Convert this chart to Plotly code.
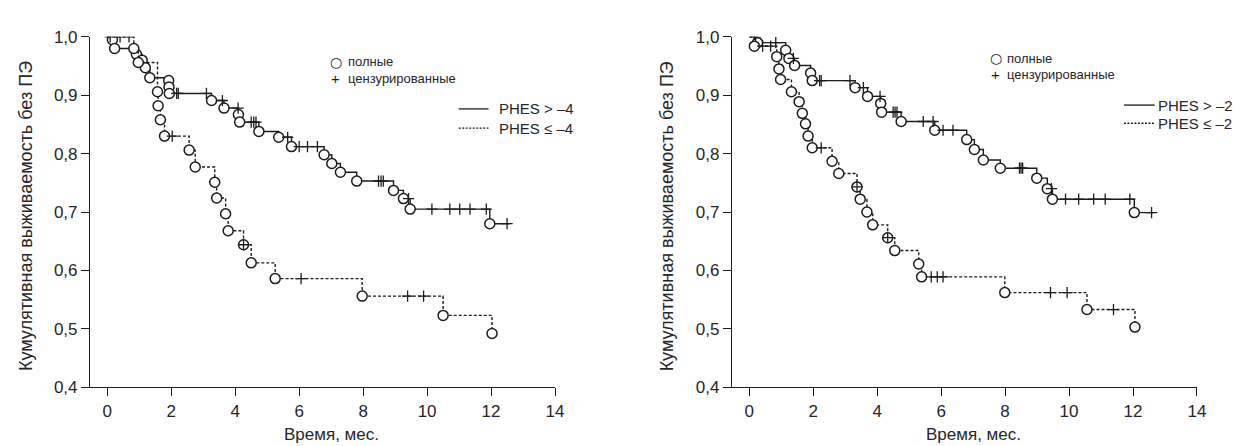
import numpy as np
import plotly.graph_objects as go

W, H = 1251, 446

# ---------------- data ----------------
tick_vals_x = [0, 2, 4, 6, 8, 10, 12, 14]
tick_vals_y = [0.4, 0.5, 0.6, 0.7, 0.8, 0.9, 1.0]

# Left panel: PHES > -4 (solid)
L_hi_event_t = [0.16, 0.23, 0.91, 1.09, 1.19, 1.33, 1.92, 1.93, 1.94, 3.26, 3.65, 4.10, 4.14,
                4.74, 5.36, 5.76, 6.78, 7.02, 7.29, 7.80, 8.95, 9.26, 9.47, 11.96]
L_hi_event_s = [0.995, 0.980, 0.970, 0.960, 0.947, 0.930, 0.925, 0.914, 0.903, 0.891, 0.878, 0.867, 0.854,
                0.838, 0.828, 0.812, 0.798, 0.783, 0.768, 0.753, 0.737, 0.723, 0.705, 0.680]
L_hi_cens_t = [2.17, 2.22, 3.10, 3.60, 4.09, 4.50, 4.58, 4.65, 5.64, 6.00, 6.26, 6.57, 8.48, 8.56, 8.63,
               9.42, 10.15, 10.71, 11.02, 11.34, 11.85, 12.50]
L_hi_end = 12.58

# Left panel: PHES <= -4 (dashed)
L_lo_event_t = [0.83, 0.97, 1.57, 1.59, 1.66, 1.79, 2.56, 2.75, 3.36, 3.42, 3.70, 3.78, 4.26, 4.50,
                5.25, 7.97, 10.50, 12.03]
L_lo_event_s = [0.980, 0.956, 0.906, 0.882, 0.858, 0.830, 0.806, 0.777, 0.751, 0.724, 0.697, 0.668, 0.644, 0.613,
                0.586, 0.556, 0.523, 0.492]
L_lo_cens_t = [0.09, 0.40, 0.68, 2.03, 4.26, 6.06, 9.39, 9.89]
L_lo_end = 12.03

# Right panel: PHES > -2 (solid)
R_hi_event_t = [0.26, 1.14, 1.24, 1.42, 1.92, 1.97, 3.31, 3.70, 4.11, 4.14, 4.75, 5.80, 6.80, 7.04,
                7.32, 7.85, 8.99, 9.32, 9.48, 12.04]
R_hi_event_s = [0.990, 0.977, 0.963, 0.951, 0.938, 0.925, 0.913, 0.898, 0.886, 0.871, 0.855, 0.840, 0.824, 0.807,
                0.789, 0.775, 0.758, 0.740, 0.722, 0.699]
R_hi_cens_t = [0.20, 0.83, 1.38, 2.20, 2.25, 3.15, 3.57, 4.09, 4.50, 4.56, 4.62, 5.44, 5.75, 6.06, 6.37,
               8.45, 8.50, 8.55, 9.45, 9.89, 10.30, 10.77, 11.13, 11.90, 12.58]
R_hi_end = 12.65

# Right panel: PHES <= -2 (dashed)
R_lo_event_t = [0.16, 0.86, 0.93, 0.98, 1.32, 1.56, 1.66, 1.76, 1.84, 1.97, 2.59, 2.80, 3.37, 3.47,
                3.68, 3.86, 4.33, 4.55, 5.30, 5.39, 7.99, 10.56, 12.06]
R_lo_event_s = [0.984, 0.966, 0.945, 0.927, 0.906, 0.889, 0.869, 0.851, 0.830, 0.810, 0.787, 0.766, 0.743, 0.722,
                0.700, 0.678, 0.656, 0.634, 0.611, 0.589, 0.562, 0.533, 0.503]
R_lo_cens_t = [0.42, 0.67, 2.25, 3.37, 4.33, 5.69, 5.88, 6.06, 9.42, 9.94, 11.39]
R_lo_end = 12.06

panel_labels = ["PHES > \u20134", "PHES \u2264 \u20134", "PHES > \u20132", "PHES \u2264 \u20132"]
legend_events = "полные"
legend_cens = "цензурированные"
y_title = "Кумулятивная выживаемость без ПЭ"
x_title = "Время, мес."

# ---------------- helpers ----------------
INK = "#1c1c1c"
TXT = "#262626"
FONT = "Liberation Sans, Arial, sans-serif"


def px(x):
    return x / W


def py(y):
    return 1 - y / H


def surv_at(ev_t, ev_s, t):
    ev_t = np.asarray(ev_t)
    ev_s = np.asarray(ev_s)
    idx = np.searchsorted(ev_t, t, side="right") - 1
    return np.where(idx >= 0, ev_s[np.clip(idx, 0, None)], 1.0)


def add_curve(fig, ev_t, ev_s, cens_t, end_t, dash, xa, ya):
    xs = [0.0] + list(ev_t)
    ys = [1.0] + list(ev_s)
    if end_t > ev_t[-1]:
        xs.append(end_t)
        ys.append(ev_s[-1])
    fig.add_trace(go.Scatter(x=xs, y=ys, mode="lines", line_shape="hv",
                             line=dict(color=INK, width=1.4, dash=dash),
                             xaxis=xa, yaxis=ya, showlegend=False, hoverinfo="skip"))
    fig.add_trace(go.Scatter(x=ev_t, y=ev_s, mode="markers",
                             marker=dict(symbol="circle", size=10, color="white",
                                         line=dict(color=INK, width=1.5)),
                             xaxis=xa, yaxis=ya, showlegend=False))
    cy = surv_at(ev_t, ev_s, np.asarray(cens_t))
    fig.add_trace(go.Scatter(x=cens_t, y=cy, mode="markers",
                             marker=dict(symbol="cross-thin", size=8,
                                         line=dict(color=INK, width=1.3)),
                             xaxis=xa, yaxis=ya, showlegend=False))


fig = go.Figure()
DASH = "3px,2px"
add_curve(fig, L_hi_event_t, L_hi_event_s, L_hi_cens_t, L_hi_end, "solid", "x", "y")
add_curve(fig, L_lo_event_t, L_lo_event_s, L_lo_cens_t, L_lo_end, DASH, "x", "y")
add_curve(fig, R_hi_event_t, R_hi_event_s, R_hi_cens_t, R_hi_end, "solid", "x2", "y2")
add_curve(fig, R_lo_event_t, R_lo_event_s, R_lo_cens_t, R_lo_end, DASH, "x2", "y2")

# axes geometry (pixels)
L_axis_px, L_end_px = 82.7, 551.0
R_axis_px, R_end_px = 729.3, 1197.6
Y_bot_px, Y_top_px = 386.7, 20.7
x_min = -(100.0 - L_axis_px) / ((L_end_px - 100.0) / 14)

TICKFONT = dict(family=FONT, size=17, color=TXT)
common_x = dict(range=[x_min, 14], tickvals=tick_vals_x, ticks="outside", ticklen=8, tickwidth=1.2,
                tickcolor=INK, showline=True, linecolor=INK, linewidth=1.3, showgrid=False,
                zeroline=False, tickfont=TICKFONT)
common_y = dict(range=[0.4, 1.0], tickvals=tick_vals_y, tickformat=".1f", ticks="outside", ticklen=8,
                tickwidth=1.2, tickcolor=INK, showline=True, linecolor=INK, linewidth=1.3,
                showgrid=False, zeroline=False, tickfont=TICKFONT)

fig.update_layout(
    width=W, height=H, margin=dict(l=0, r=0, t=0, b=0),
    paper_bgcolor="white", plot_bgcolor="white", separators=",.",
    font=dict(family=FONT, color=TXT),
    xaxis=dict(domain=[px(L_axis_px), px(L_end_px)], anchor="y", **common_x),
    yaxis=dict(domain=[py(Y_bot_px), py(Y_top_px)], anchor="x", **common_y),
    xaxis2=dict(domain=[px(R_axis_px), px(R_end_px)], anchor="y2", **common_x),
    yaxis2=dict(domain=[py(Y_bot_px), py(Y_top_px)], anchor="x2", **common_y),
    showlegend=False,
)

ann = []
shapes = []
# axis titles
for xc in [18, 664]:
    ann.append(dict(text=y_title, x=px(xc), y=py(208), xref="paper", yref="paper", textangle=-90,
                    showarrow=False, font=dict(family=FONT, size=18, color=TXT),
                    xanchor="center", yanchor="middle"))
for xc in [325.5, 972.5]:
    ann.append(dict(text=x_title, x=px(xc), y=py(436), xref="paper", yref="paper", showarrow=False,
                    font=dict(family=FONT, size=17, color=TXT), xanchor="center", yanchor="middle"))

# in-plot legends (symbol + text)
for (xs, xt, y_ev, y_ce) in [(330, 340, 47, 64), (995, 1004, 43, 60)]:
    ann.append(dict(text="\u25cb", x=px(xs), y=py(y_ev), xref="paper", yref="paper",
                    showarrow=False, xanchor="center", yanchor="middle",
                    font=dict(family="DejaVu Sans", size=14, color=INK)))
    ann.append(dict(text="+", x=px(xs), y=py(y_ce), xref="paper", yref="paper",
                    showarrow=False, xanchor="center", yanchor="middle",
                    font=dict(family=FONT, size=15, color=INK)))
    ann.append(dict(text=legend_events, x=px(xt), y=py(y_ev), xref="paper", yref="paper",
                    showarrow=False, xanchor="left", yanchor="middle",
                    font=dict(family=FONT, size=13, color=TXT)))
    ann.append(dict(text=legend_cens, x=px(xt), y=py(y_ce), xref="paper", yref="paper",
                    showarrow=False, xanchor="left", yanchor="middle",
                    font=dict(family=FONT, size=13, color=TXT)))

for (lx0, lx1, tx, ys, labs) in [(454, 484, 493, (96, 116), panel_labels[:2]),
                                 (1124, 1155, 1156, (92, 111), panel_labels[2:])]:
    for yy, lab, dash in zip(ys, labs, ["solid", "2px,1.5px"]):
        shapes.append(dict(type="line", xref="paper", yref="paper", x0=px(lx0), x1=px(lx1),
                           y0=py(yy), y1=py(yy), line=dict(color=INK, width=1.3, dash=dash)))
        ann.append(dict(text=lab, x=px(tx), y=py(yy), xref="paper", yref="paper", showarrow=False,
                        xanchor="left", yanchor="middle", font=dict(family=FONT, size=15, color=TXT)))

fig.update_layout(annotations=ann, shapes=shapes)
fig.write_html("out.html")
